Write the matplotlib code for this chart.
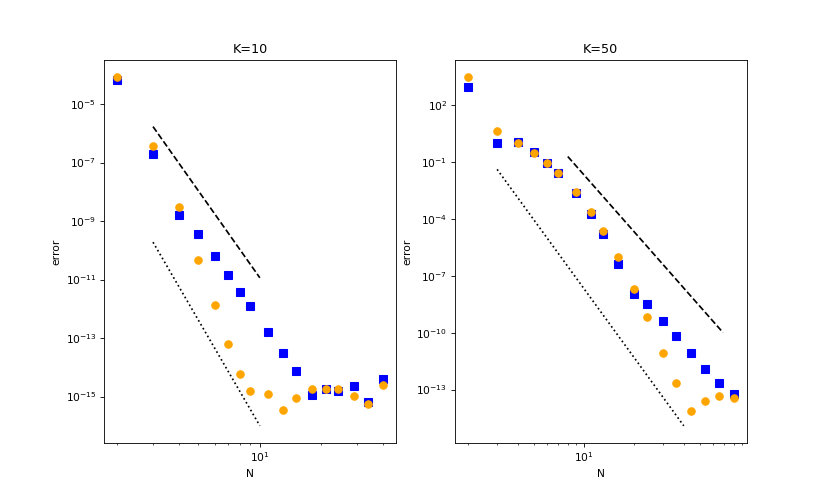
import numpy as np
import matplotlib
matplotlib.use('Agg')
import matplotlib.pyplot as plt

# sample sizes
N_k10 = [2, 3, 4, 5, 6, 7, 8, 9, 11, 13, 15, 18, 21, 24, 29, 34, 40]
N_k50 = [2, 3, 4, 5, 6, 7, 9, 11, 13, 16, 20, 24, 30, 36, 44, 54, 65, 80]

# log10 of the errors
sq_k10 = [-4.18, -6.71, -8.78, -9.43, -10.19, -10.85, -11.42, -11.92, -12.78,
          -13.50, -14.11, -14.95, -14.75, -14.80, -14.64, -15.19, -14.40]
ci_k10 = [-4.08, -6.42, -8.52, -10.33, -11.88, -13.21, -14.24, -14.81, -14.90,
          -15.47, -15.05, -14.73, -14.75, -14.74, -14.98, -15.27, -14.62]

sq_k50 = [2.96, -0.02, 0.02, -0.49, -1.04, -1.58, -2.65, -3.75, -4.81,
          -6.39, -7.96, -8.47, -9.40, -10.19, -11.05, -11.93, -12.65, -13.23]
ci_k50 = [3.46, 0.65, 0.0, -0.54, -1.05, -1.58, -2.60, -3.63, -4.63,
          -6.02, -7.70, -9.18, -11.09, -12.63, -14.12, -13.58, -13.33, -13.47]

# reference slopes (endpoints)
dash_k10_x = [3, 10]
dash_k10_y = [1.7e-6, 1.15e-11]
dot_k10_x = [3, 10]
dot_k10_y = [1.9e-10, 1e-16]

dash_k50_x = [8, 69]
dash_k50_y = [0.19, 1e-10]
dot_k50_x = [3, 40]
dot_k50_y = [0.04, 1.23e-15]

panels = [
    ('K=10', N_k10, sq_k10, ci_k10, dash_k10_x, dash_k10_y, dot_k10_x, dot_k10_y),
    ('K=50', N_k50, sq_k50, ci_k50, dash_k50_x, dash_k50_y, dot_k50_x, dot_k50_y),
]

dpi = 76.6
fig, axes = plt.subplots(1, 2, figsize=(830 / dpi, 498 / dpi), dpi=dpi)

for ax, (title, N, sq, ci, dx, dy, ox, oy) in zip(axes, panels):
    ax.loglog(N, 10.0 ** np.array(sq), 's', color='blue', markersize=7)
    ax.loglog(N, 10.0 ** np.array(ci), 'o', color='orange', markersize=7)
    ax.loglog(dx, dy, '--', color='black', linewidth=1.6)
    ax.loglog(ox, oy, ':', color='black', linewidth=1.6)
    ax.set_title(title)
    ax.set_xlabel('N')
    ax.set_ylabel('error')

plt.savefig('out.png', dpi=dpi)
